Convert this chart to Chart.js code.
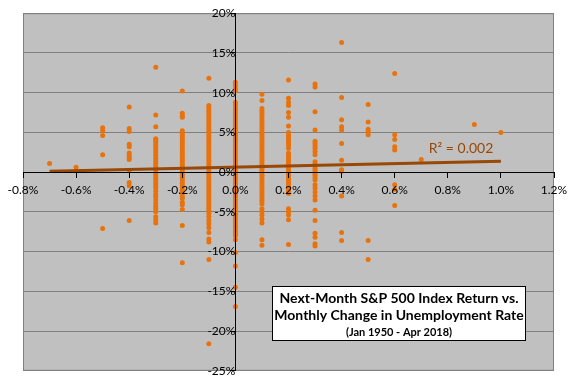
<!DOCTYPE html>
<html>
<head>
<meta charset="utf-8">
<script src="https://cdn.jsdelivr.net/npm/chart.js@4"></script>
<style>
  html, body { margin: 0; padding: 0; background: #fff; }
  #wrap { width: 576px; height: 384px; }
</style>
</head>
<body>
<div id="wrap"><canvas id="chart" width="576" height="384"></canvas></div>
<script>
// monthly change in unemployment rate (percentage points)
const unempChange = [-0.7, -0.6, -0.5, -0.4, -0.3, -0.2, -0.1, 0.0, 0.1, 0.2, 0.3, 0.4, 0.5, 0.6, 0.7, 0.9, 1.0];

// next-month S&P 500 returns (%), one list per unemployment change above
const nextMonthReturns = [
    [1.1],
    [0.6],
    [5.6, 5.2, 4.6, 2.2, -7.1],
    [8.2, 5.5, 5.1, 3.5, 3.2, 2.4, 2.1, 1.8, 1.6, 0.2, -1.3, -1.7, -6.1],
    [13.2, 7.2, 5.7, 4.2, 4.0, 3.8, 3.5, 3.3, 3.0, 2.7, 2.4, 2.1, 1.7, 1.4, 1.1, 0.8, 0.5, 0.2, -0.2, -0.5,
     -0.8, -1.1, -1.4, -1.7, -2.0, -2.4, -2.8, -3.1, -3.5, -3.9, -4.3, -4.6, -5.0, -5.6, -6.0, -6.4],
    [10.2, 7.4, 7.1, 6.9, 5.2, 4.9, 4.6, 4.3, 4.0, 3.7, 3.4, 3.1, 2.8, 2.5, 2.2, 1.9, 1.6, 1.3, 1.0, 0.7,
     0.4, 0.1, -0.2, -0.5, -0.8, -1.1, -1.4, -1.7, -2.0, -2.3, -2.6, -3.0, -3.3, -3.8, -4.1, -4.7, -6.7, -11.4],
    [11.8, 8.4, 8.1, 7.8, 7.5, 7.2, 6.9, 6.6, 6.3, 6.0, 5.7, 5.4, 5.1, 4.8, 4.5, 4.2, 3.9, 3.6, 3.3, 3.0,
     2.7, 2.4, 2.1, 1.8, 1.5, 1.2, 0.9, 0.6, 0.3, 0.0, -0.3, -0.6, -0.9, -1.2, -1.5, -1.8, -2.1, -2.4, -2.7, -3.0,
     -3.3, -3.6, -3.9, -4.2, -4.5, -4.8, -5.2, -5.6, -6.1, -6.5, -7.0, -7.6, -8.4, -8.8, -11.0, -21.6],
    [11.3, 10.9, 10.5, 10.2, 8.8, 8.5, 8.2, 7.9, 7.6, 7.3, 7.0, 6.7, 6.4, 6.1, 5.8, 5.5, 5.2, 4.9, 4.6, 4.3,
     4.0, 3.7, 3.4, 3.1, 2.8, 2.5, 2.2, 1.9, 1.6, 1.3, 1.0, 0.7, 0.4, 0.1, -0.2, -0.5, -0.8, -1.1, -1.4, -1.7,
     -2.0, -2.3, -2.6, -2.9, -3.2, -3.5, -3.8, -4.1, -4.4, -4.7, -5.0, -5.3, -5.6, -5.9, -6.2, -6.5, -6.8, -7.1,
     -7.4, -7.7, -8.0, -8.5, -10.1, -11.8, -14.5, -16.9],
    [9.8, 9.0, 8.0, 7.7, 7.4, 7.1, 6.8, 6.5, 6.2, 5.9, 5.6, 5.3, 5.0, 4.7, 4.4, 4.1, 3.8, 3.5, 3.2, 2.9,
     2.6, 2.3, 2.0, 1.7, 1.4, 1.1, 0.8, 0.5, 0.2, -0.1, -0.4, -0.7, -1.0, -1.3, -1.6, -1.9, -2.2, -2.5, -2.8, -3.1,
     -3.4, -3.7, -4.0, -4.6, -5.0, -5.4, -5.9, -6.4, -8.5, -9.2],
    [11.6, 9.3, 8.8, 8.4, 7.5, 6.9, 5.8, 5.0, 4.6, 4.3, 4.0, 3.7, 3.4, 3.0, 2.4, 2.1, 1.8, 1.5, 1.2, 0.9,
     0.6, 0.3, 0.0, -0.3, -0.6, -0.9, -1.2, -1.5, -1.8, -2.1, -2.4, -2.7, -4.6, -5.0, -5.4, -6.0, -9.1],
    [11.1, 10.7, 7.6, 5.3, 3.9, 3.6, 3.3, 3.0, 2.6, 2.2, 1.3, 1.0, 0.5, 0.2, -0.1, -0.4, -0.7, -1.0, -1.6, -2.0,
     -2.5, -3.0, -3.5, -4.8, -6.1, -7.7, -8.2, -9.0, -9.3],
    [16.3, 9.4, 6.6, 5.7, 5.3, 3.6, 1.5, 0.3, 0.1, -3.0, -7.6, -8.6],
    [8.5, 6.3, 5.4, 5.1, 4.7, -8.6, -11.0],
    [12.4, 4.7, 4.1, 3.2, 2.8, -1.6, -2.2, -4.2],
    [1.6],
    [6.0],
    [5.0]
];

// linear trendline end points
const trendX = [-0.7, 1.0];
const trendY = [0.12, 1.37];
const rSquaredLabel = 'R\u00B2 = 0.002';

const titleLines = [
    'Next-Month S&P 500 Index Return vs.',
    'Monthly Change in Unemployment Rate',
    '(Jan 1950 - Apr 2018)'
];

const FONT = 'Lato, "Open Sans", sans-serif';

const scatterPoints = [];
unempChange.forEach((x, i) => {
    nextMonthReturns[i].forEach(y => scatterPoints.push({ x: x, y: y }));
});

const plotBackground = {
    id: 'plotBackground',
    beforeDraw(chart) {
        const { ctx, chartArea: a } = chart;
        ctx.save();
        ctx.fillStyle = '#C0C0C0';
        ctx.fillRect(a.left, a.top, a.right - a.left, a.bottom - a.top);
        ctx.strokeStyle = '#808080';
        ctx.lineWidth = 1;
        ctx.strokeRect(a.left + 0.5, a.top + 0.5, a.right - a.left - 1, a.bottom - a.top - 1);
        ctx.restore();
    }
};

const annotations = {
    id: 'annotations',
    afterDraw(chart) {
        const { ctx } = chart;
        const xs = chart.scales.x, ys = chart.scales.y;
        ctx.save();

        // R squared label
        ctx.fillStyle = '#984807';
        ctx.font = '14px ' + FONT;
        ctx.textAlign = 'center';
        ctx.textBaseline = 'middle';
        ctx.fillText(rSquaredLabel, xs.getPixelForValue(0.85), ys.getPixelForValue(3.0));

        // title box
        const bx = 272, by = 286, bw = 254, bh = 55;
        ctx.fillStyle = '#fff';
        ctx.fillRect(bx, by, bw, bh);
        ctx.strokeStyle = '#000';
        ctx.lineWidth = 1;
        ctx.strokeRect(bx + 0.5, by + 0.5, bw - 1, bh - 1);
        ctx.fillStyle = '#000';
        ctx.font = 'bold 14px ' + FONT;
        ctx.fillText(titleLines[0], bx + bw / 2, by + 12);
        ctx.fillText(titleLines[1], bx + bw / 2, by + 29);
        ctx.font = 'bold 11px ' + FONT;
        ctx.fillText(titleLines[2], bx + bw / 2, by + 46);
        ctx.restore();
    }
};

new Chart(document.getElementById('chart'), {
    type: 'scatter',
    data: {
        datasets: [
            {
                type: 'line',
                label: 'Trend',
                data: trendX.map((x, i) => ({ x: x, y: trendY[i] })),
                borderColor: '#984807',
                borderWidth: 3,
                pointRadius: 0,
                fill: false,
                order: 0
            },
            {
                label: 'Returns',
                data: scatterPoints,
                backgroundColor: '#E8720C',
                borderWidth: 0,
                pointRadius: 2.5,
                pointHoverRadius: 2.5,
                order: 1
            }
        ]
    },
    options: {
        responsive: false,
        animation: false,
        events: [],
        layout: { padding: { left: 23, right: 22, top: 8, bottom: 9 } },
        plugins: {
            legend: { display: false },
            tooltip: { enabled: false }
        },
        scales: {
            x: {
                type: 'linear',
                min: -0.8,
                max: 1.2,
                position: { y: 0 },
                border: { color: '#000', width: 1, z: 1 },
                grid: { drawOnChartArea: false, drawTicks: true, tickLength: 5, tickColor: '#000', z: 1 },
                ticks: {
                    stepSize: 0.2,
                    autoSkip: false,
                    maxRotation: 0,
                    color: '#000',
                    padding: 6,
                    z: 1,
                    font: { family: FONT, size: 12 },
                    callback: v => (Math.abs(v) < 1e-9 ? 0 : v).toFixed(1) + '%'
                }
            },
            y: {
                min: -25,
                max: 20,
                position: { x: 0 },
                border: { color: '#000', width: 1, z: 1 },
                grid: {
                    color: ctx => (ctx.tick && ctx.tick.value === 0) ? 'rgba(0,0,0,0)' : '#808080',
                    tickLength: 5,
                    tickColor: '#000'
                },
                ticks: {
                    stepSize: 5,
                    color: '#000',
                    padding: 6,
                    z: 1,
                    font: { family: FONT, size: 12 },
                    callback: v => v + '%'
                }
            }
        }
    },
    plugins: [plotBackground, annotations]
});
</script>
</body>
</html>
